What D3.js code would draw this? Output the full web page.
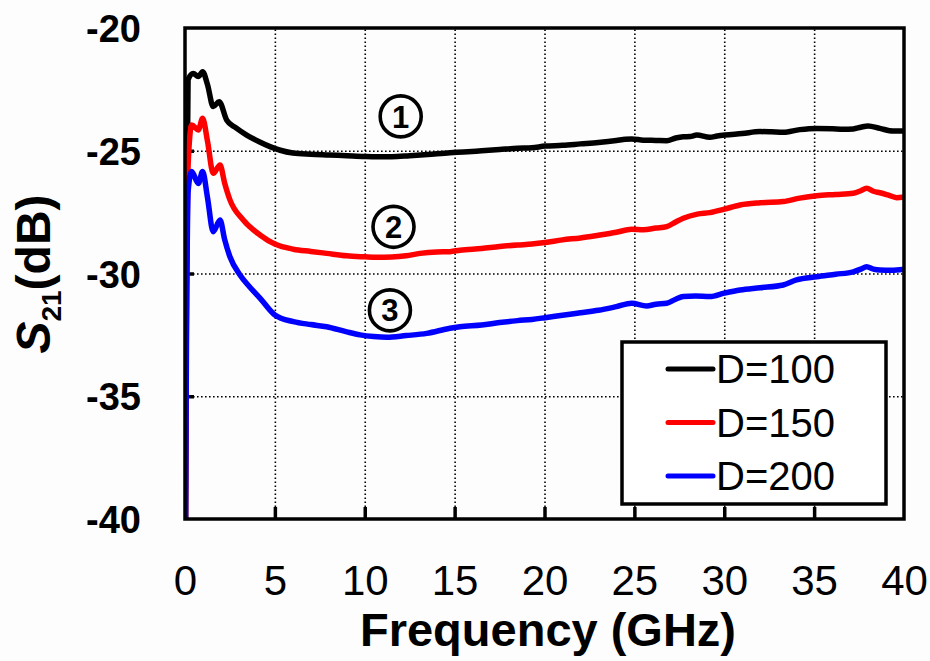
<!DOCTYPE html>
<html><head><meta charset="utf-8">
<script src="https://cdn.jsdelivr.net/npm/d3@7"></script>
<style>
html,body{margin:0;padding:0;background:#fdfdfd;}
svg{display:block;font-family:"Liberation Sans",Arial,sans-serif;}
</style></head>
<body><svg id="chart" width="930" height="661"></svg>
<script>
// ---- data ----
const xTicks = [0,5,10,15,20,25,30,35,40];
const yTicks = [-20,-25,-30,-35,-40];
const xTickLabels = ["0","5","10","15","20","25","30","35","40"];
const yTickLabels = ["-20","-25","-30","-35","-40"];
const seriesNames = ["D=100","D=150","D=200"];
const seriesColors = ["#000000","#ff0000","#0000ff"];

const freqD100 = [0.03,0.08,0.17,0.46,0.74,0.98,1.25,1.57,1.9,2.32,2.8,3.43,4.1,4.73,5.3,6.0,7,8,9,10,10.66,11.5,12.5,13.5,14.74,15.5,16.5,17.5,18.5,19.3,20.03,21,22,23,24,24.5,24.85,25.5,26.2,26.8,27.3,27.72,28.1,28.47,29.2,29.6,30.04,31,31.99,32.6,33.28,34.2,35.14,36,36.6,37.18,37.6,38.0,38.66,39.4,40];
const s21D100 = [-40,-30,-22.1,-21.85,-21.98,-21.78,-22.3,-23.2,-23.0,-23.75,-24.05,-24.36,-24.62,-24.83,-24.98,-25.09,-25.14,-25.17,-25.2,-25.23,-25.24,-25.24,-25.2,-25.15,-25.08,-25.05,-25.0,-24.95,-24.9,-24.88,-24.81,-24.78,-24.72,-24.66,-24.58,-24.53,-24.52,-24.57,-24.58,-24.59,-24.48,-24.43,-24.42,-24.36,-24.45,-24.4,-24.36,-24.3,-24.22,-24.23,-24.25,-24.14,-24.09,-24.1,-24.12,-24.11,-24.04,-23.99,-24.09,-24.2,-24.2];

const freqD150 = [0.03,0.08,0.15,0.37,0.74,0.98,1.25,1.57,1.95,2.2,2.5,3.24,4.17,5.0,6.03,7.0,7.88,9.0,10.0,10.66,11.5,12.3,13.07,14.0,14.74,15.3,16.5,17.5,18.5,19.3,20.03,21,22,23,24,24.85,25.5,26.2,26.8,27.3,27.72,28.5,29.2,30.0,30.88,32,33.28,34.2,35.14,36.2,37.18,37.6,37.92,38.3,38.66,39.1,39.59,40];
const s21D150 = [-40,-31,-26,-23.95,-24.15,-23.68,-24.6,-25.92,-25.58,-26.3,-27.0,-27.82,-28.43,-28.8,-29.01,-29.1,-29.18,-29.28,-29.32,-29.34,-29.33,-29.28,-29.18,-29.12,-29.11,-29.05,-28.98,-28.9,-28.84,-28.8,-28.74,-28.63,-28.55,-28.44,-28.32,-28.2,-28.22,-28.15,-28.09,-27.9,-27.75,-27.58,-27.52,-27.38,-27.21,-27.12,-27.07,-26.93,-26.83,-26.78,-26.73,-26.63,-26.53,-26.65,-26.71,-26.8,-26.91,-26.88];

const freqD200 = [0.03,0.08,0.18,0.37,0.74,0.98,1.25,1.57,1.95,2.2,2.5,3.06,3.6,4.17,5.0,6.03,7.0,7.88,9.0,9.74,10.5,11.22,12.3,13.45,14.74,15.3,16.5,17.5,18.5,19.3,20.03,21,22,23,24,24.85,25.68,26.2,26.8,27.3,27.72,28.4,29.2,30.0,30.88,32.0,33.28,34.02,35.14,36.2,37.18,37.6,37.92,38.3,38.66,39.3,40];
const s21D200 = [-40,-33,-26.6,-25.85,-26.33,-25.85,-26.9,-28.3,-27.82,-28.6,-29.32,-30.06,-30.55,-31.0,-31.69,-31.96,-32.08,-32.17,-32.38,-32.5,-32.57,-32.6,-32.53,-32.44,-32.23,-32.17,-32.1,-32.0,-31.92,-31.87,-31.8,-31.7,-31.6,-31.5,-31.35,-31.21,-31.32,-31.25,-31.21,-31.05,-30.94,-30.92,-30.94,-30.8,-30.67,-30.58,-30.47,-30.26,-30.13,-30.03,-29.93,-29.82,-29.72,-29.82,-29.86,-29.87,-29.83];

const markerLabels = ["1","2","3"];
const markerFreq = [12.0,11.6,11.4];
const markerS21 = [-23.6,-28.1,-31.5];

// ---- layout ----
const svg = d3.select("#chart");
const L = 185, R = 904, T = 28, B = 519;
const x = d3.scaleLinear().domain([0,40]).range([L,R]);
const y = d3.scaleLinear().domain([-40,-20]).range([B,T]);

// gridlines via axes
const gridX = svg.append("g").attr("transform",`translate(0,${B})`)
  .call(d3.axisBottom(x).tickValues(xTicks.slice(1,-1)).tickSize(-(B-T)).tickFormat(""));
gridX.select(".domain").remove();
gridX.selectAll("line").attr("stroke","#000").attr("stroke-width",1.6).attr("stroke-dasharray","1.6 2.4");
const gridY = svg.append("g").attr("transform",`translate(${L},0)`)
  .call(d3.axisLeft(y).tickValues(yTicks.slice(1,-1)).tickSize(-(R-L)).tickFormat(""));
gridY.select(".domain").remove();
gridY.selectAll("line").attr("stroke","#000").attr("stroke-width",1.6).attr("stroke-dasharray","1.6 2.4");

// inner ticks
const tickB = svg.append("g").attr("transform",`translate(0,${B})`)
  .call(d3.axisBottom(x).tickValues(xTicks.slice(1,-1)).tickSize(-12).tickFormat(""));
tickB.select(".domain").remove();
tickB.selectAll("line").attr("stroke","#000").attr("stroke-width",3.5);
const tickL = svg.append("g").attr("transform",`translate(${L},0)`)
  .call(d3.axisLeft(y).tickValues(yTicks.slice(1,-1)).tickSize(-9).tickFormat(""));
tickL.select(".domain").remove();
tickL.selectAll("line").attr("stroke","#000").attr("stroke-width",3.5);

// tick labels
const labX = svg.append("g").attr("transform",`translate(0,${B})`)
  .call(d3.axisBottom(x).tickValues(xTicks).tickSize(0).tickPadding(0).tickFormat((d,i)=>xTickLabels[i]));
labX.select(".domain").remove();
labX.selectAll("text").attr("y",76).attr("dy",null).attr("font-size",42)
  .attr("font-family","'Liberation Sans',Arial,sans-serif").attr("fill","#000");

const labY = svg.append("g").attr("transform",`translate(${L},0)`)
  .call(d3.axisLeft(y).tickValues(yTicks).tickSize(0).tickPadding(0).tickFormat((d,i)=>yTickLabels[i]));
labY.select(".domain").remove();
labY.selectAll("text").attr("x",-44).attr("dy","0.36em").attr("font-size",38).attr("font-weight","bold")
  .attr("font-family","'Liberation Sans',Arial,sans-serif").attr("fill","#000");

// curves
const line = d3.line().x(d=>x(d[0])).y(d=>y(d[1])).curve(d3.curveMonotoneX);
const allSeries = [
  d3.zip(freqD100,s21D100),
  d3.zip(freqD150,s21D150),
  d3.zip(freqD200,s21D200)
];
svg.append("defs").append("clipPath").attr("id","clip")
  .append("rect").attr("x",L).attr("y",T).attr("width",R-L).attr("height",B-T);
const curves = svg.append("g").attr("clip-path","url(#clip)");
allSeries.forEach((s,i)=>{
  curves.append("path").datum(s).attr("d",line).attr("fill","none")
    .attr("stroke",seriesColors[i]).attr("stroke-width",5.5).attr("stroke-linejoin","round").attr("stroke-linecap","round");
});

// frame
svg.append("rect").attr("x",L).attr("y",T).attr("width",R-L).attr("height",B-T)
  .attr("fill","none").attr("stroke","#000").attr("stroke-width",3.5);

// circled markers
markerLabels.forEach((t,i)=>{
  const g = svg.append("g").attr("transform",`translate(${x(markerFreq[i])},${y(markerS21[i])})`);
  g.append("circle").attr("r",20.5).attr("fill","none").attr("stroke","#000").attr("stroke-width",3.6);
  g.append("text").attr("text-anchor","middle").attr("dy","0.36em").attr("font-size",31).attr("font-weight","bold").attr("fill","#000").text(t);
});

// legend
const lg = svg.append("g");
lg.append("rect").attr("x",622).attr("y",342).attr("width",264).attr("height",162)
  .attr("fill","#fff").attr("stroke","#000").attr("stroke-width",3.5);
seriesNames.forEach((n,i)=>{
  const yy = 369 + i*53.5;
  lg.append("line").attr("x1",668).attr("x2",713).attr("y1",yy).attr("y2",yy)
    .attr("stroke",seriesColors[i]).attr("stroke-width",5).attr("stroke-linecap","round");
  lg.append("text").attr("x",716).attr("y",yy).attr("dy","0.36em").attr("font-size",40).attr("fill","#000").text(n);
});

// axis titles
svg.append("text").attr("x",548).attr("y",646).attr("text-anchor","middle")
  .attr("font-size",47).attr("font-weight","bold").attr("fill","#000").text("Frequency (GHz)");
const yt = svg.append("text").attr("transform","translate(50,274) rotate(-90)").attr("text-anchor","middle")
  .attr("font-size",48).attr("font-weight","bold").attr("fill","#000");
yt.append("tspan").attr("font-style","italic").text("S");
yt.append("tspan").attr("font-size",28).attr("dy",11).text("21");
yt.append("tspan").attr("dy",-11).text("(dB)");
</script></body></html>
